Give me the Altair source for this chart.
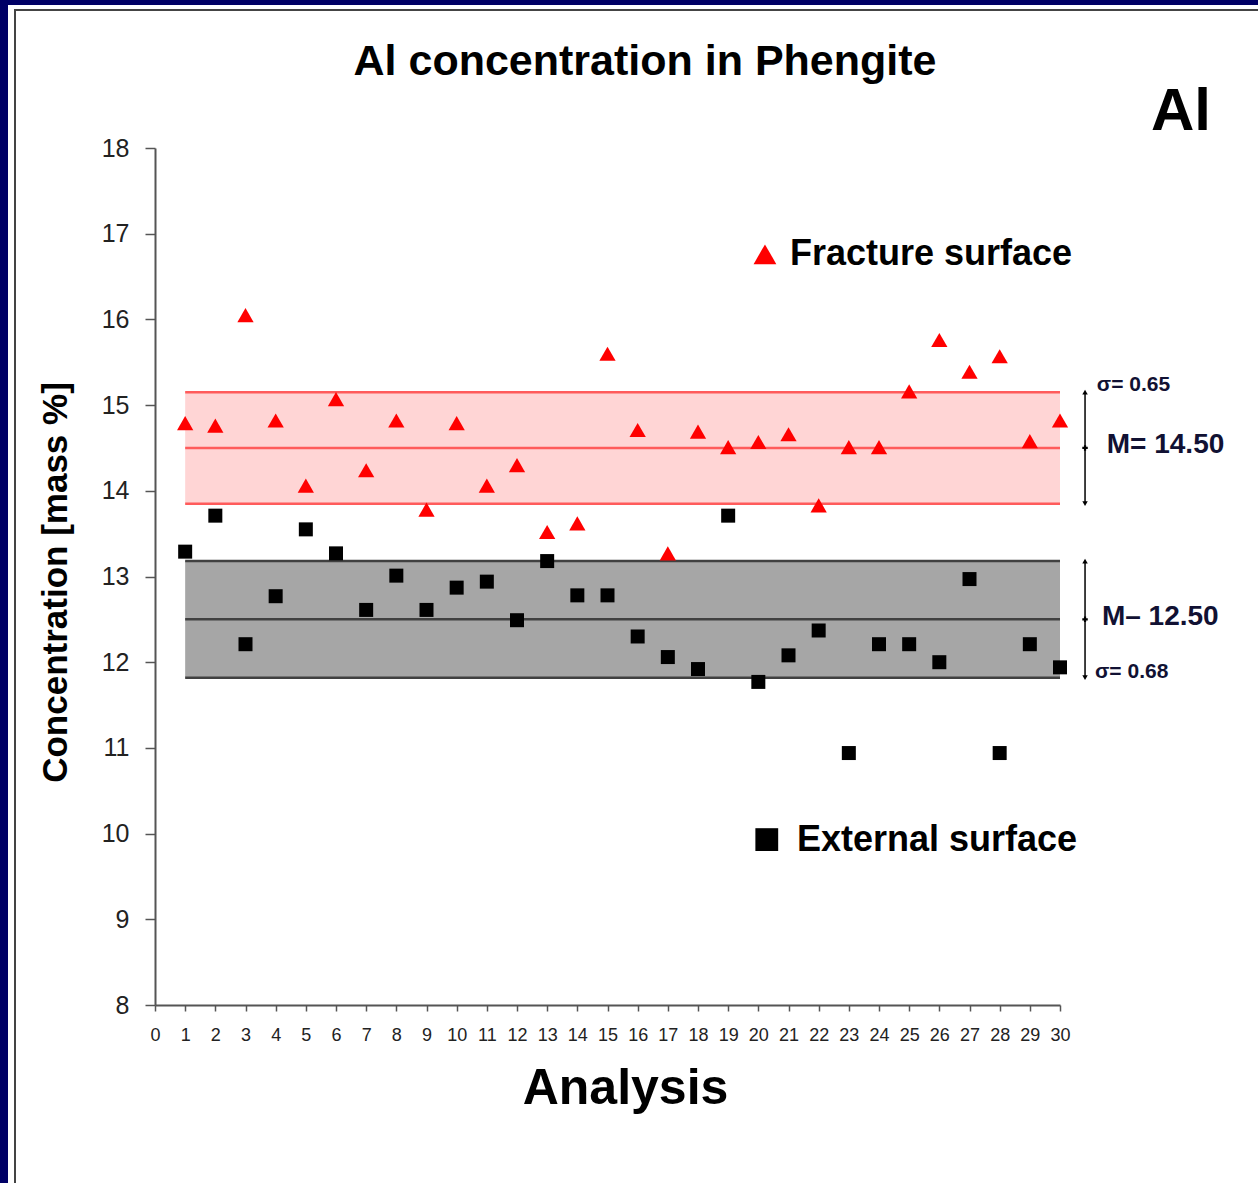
import altair as alt
import pandas as pd

# ---------------- data ----------------
analysis = list(range(1, 31))
fracture = [14.79, 14.76, 16.05, 14.82, 14.06, 15.07, 14.24, 14.82, 13.78, 14.79,
            14.06, 14.30, 13.52, 13.62, 15.60, 14.71, 13.27, 14.69, 14.51, 14.57,
            14.66, 13.83, 14.51, 14.51, 15.16, 15.76, 15.39, 15.57, 14.58, 14.82]
external = [13.29, 13.71, 12.21, 12.77, 13.55, 13.27, 12.61, 13.01, 12.61, 12.87,
            12.94, 12.49, 13.18, 12.78, 12.78, 12.30, 12.06, 11.92, 13.71, 11.77,
            12.08, 12.37, 10.94, 12.21, 12.21, 12.00, 12.97, 10.94, 12.21, 11.94]
series_names = ["Fracture surface", "External surface"]
band_mean = [14.50, 12.50]
band_sigma = [0.65, 0.68]
band_from = [1, 1]
band_to = [30, 30]
mean_labels = ["M= 14.50", "M\u2013 12.50"]
sigma_labels = ["\u03c3= 0.65", "\u03c3= 0.68"]
x_ticks = list(range(0, 31))
y_ticks = list(range(8, 19))

FONT = "Liberation Sans, Arial, sans-serif"

# ---------------- tables ----------------
pts = pd.DataFrame({
    "Analysis": analysis * 2,
    "value": fracture + external,
    "series": [series_names[0]] * 30 + [series_names[1]] * 30,
})
bands = pd.DataFrame({
    "series": series_names,
    "x1": band_from, "x2": band_to,
    "lo": [m - s for m, s in zip(band_mean, band_sigma)],
    "hi": [m + s for m, s in zip(band_mean, band_sigma)],
    "mean": band_mean,
})
lines = pd.DataFrame({
    "series": [s for s in series_names for _ in range(3)],
    "x1": [b for b in band_from for _ in range(3)],
    "x2": [b for b in band_to for _ in range(3)],
    "level": [v for m, s in zip(band_mean, band_sigma) for v in (m - s, m, m + s)],
})

xs = alt.Scale(domain=[0, 30], nice=False, zero=False)
ys = alt.Scale(domain=[8, 18], nice=False, zero=False)
fill_scale = alt.Scale(domain=series_names, range=["#ffd5d5", "#a6a6a6"])
line_scale = alt.Scale(domain=series_names, range=["#ff5b5b", "#404040"])
pt_color = alt.Scale(domain=series_names, range=["#ff0000", "#000000"])
pt_shape = alt.Scale(domain=series_names, range=["triangle-up", "square"])

x_axis = alt.Axis(values=x_ticks, grid=False, domainColor="#555555", domainWidth=2,
                  tickColor="#555555", tickWidth=1.5, tickSize=6,
                  labelFont=FONT, labelFontSize=18, labelColor="#222222", format="d",
                  labelPadding=15, labelAngle=0, labelFlush=False, labelOverlap=False,
                  title="Analysis", titleFont=FONT, titleFontSize=50, titleFontWeight="bold",
                  titleColor="#000000", titleX=470, titleY=83, titleBaseline="middle",
                  titleAlign="center", titleAngle=0)
y_axis = alt.Axis(values=y_ticks, grid=False, domainColor="#555555", domainWidth=2,
                  tickColor="#555555", tickWidth=1.5, tickSize=10, format="d",
                  labelFont=FONT, labelFontSize=25, labelColor="#222222", labelPadding=16,
                  labelOverlap=False,
                  title="Concentration [mass %]", titleFont=FONT, titleFontSize=35,
                  titleFontWeight="bold", titleColor="#000000", titleAngle=270,
                  titleX=-100, titleY=434, titleBaseline="middle", titleAlign="center")


def X(field):
    return alt.X(field, scale=xs, axis=x_axis)


def Y(field):
    return alt.Y(field, scale=ys, axis=y_axis)


# frame (decoration in pixel space)
dummy = pd.DataFrame({"k": [0]})
frame_top = alt.Chart(dummy).mark_rect(color="#000066").encode(
    x=alt.value(-155), x2=alt.value(1103), y=alt.value(-148), y2=alt.value(-143))
frame_left = alt.Chart(dummy).mark_rect(color="#000066").encode(
    x=alt.value(-155), x2=alt.value(-147), y=alt.value(-148), y2=alt.value(1035))
frame_h = alt.Chart(dummy).mark_rule(color="#444444", strokeWidth=2).encode(
    x=alt.value(-141), x2=alt.value(1103), y=alt.value(-138))
frame_v = alt.Chart(dummy).mark_rule(color="#444444", strokeWidth=2).encode(
    x=alt.value(-140), y=alt.value(-139), y2=alt.value(1035))

band_rect = alt.Chart(bands).mark_rect().encode(
    x=X("x1:Q"), x2="x2:Q", y=Y("lo:Q"), y2="hi:Q",
    fill=alt.Fill("series:N", scale=fill_scale, legend=None))
band_lines = alt.Chart(lines).mark_rule(strokeWidth=2.5).encode(
    x=X("x1:Q"), x2="x2:Q", y=Y("level:Q"),
    stroke=alt.Stroke("series:N", scale=line_scale, legend=None))

points = alt.Chart(pts).mark_point(filled=True, opacity=1).encode(
    x=X("Analysis:Q"), y=Y("value:Q"),
    color=alt.Color("series:N", scale=pt_color, legend=None),
    shape=alt.Shape("series:N", scale=pt_shape, legend=None),
    size=alt.Size("series:N", scale=alt.Scale(domain=series_names, range=[265, 196]), legend=None))

# manual legend
leg = pd.DataFrame({"series": series_names, "sx": [20.22, 20.28], "sy": [16.76, 9.93],
                    "tx": [21.05, 21.28]})
leg_sym = alt.Chart(leg).mark_point(filled=True, opacity=1).encode(
    x=X("sx:Q"), y=Y("sy:Q"),
    color=alt.Color("series:N", scale=pt_color, legend=None),
    shape=alt.Shape("series:N", scale=pt_shape, legend=None),
    size=alt.value(520))
leg_txt = alt.Chart(leg).mark_text(align="left", baseline="middle", font=FONT,
                                   fontSize=36, fontWeight="bold", color="#000000").encode(
    x=X("tx:Q"), y=Y("sy:Q"), text="series:N")

# right-hand annotations
ann = pd.DataFrame({"series": series_names, "ax": [30.83, 30.83],
                    "lo": bands["lo"], "hi": bands["hi"], "mean": band_mean,
                    "mlab": mean_labels, "slab": sigma_labels,
                    "mx": [31.55, 31.39], "my": [14.54, 12.53],
                    "sx": [31.22, 31.16], "sy": [15.23, 11.885]})
arrow = alt.Chart(ann).mark_rule(color="#000000", strokeWidth=1.5).encode(
    x=X("ax:Q"), y=Y("lo:Q"), y2="hi:Q")
head_up = alt.Chart(ann).mark_point(shape="triangle-up", filled=True, color="#000000",
                                    size=30, opacity=1).encode(x=X("ax:Q"), y=Y("hi:Q"))
head_dn = alt.Chart(ann).mark_point(shape="triangle-down", filled=True, color="#000000",
                                    size=30, opacity=1).encode(x=X("ax:Q"), y=Y("lo:Q"))
mid_mark = alt.Chart(ann).mark_point(shape="cross", filled=True, color="#000000",
                                     size=30, opacity=1).encode(x=X("ax:Q"), y=Y("mean:Q"))
mean_txt = alt.Chart(ann).mark_text(align="left", baseline="middle", font=FONT,
                                    fontSize=28, fontWeight="bold", color="#111133").encode(
    x=X("mx:Q"), y=Y("my:Q"), text="mlab:N")
sig_txt = alt.Chart(ann).mark_text(align="left", baseline="middle", font=FONT,
                                   fontSize=21, fontWeight="bold", color="#111133").encode(
    x=X("sx:Q"), y=Y("sy:Q"), text="slab:N")

# titles
ttl = pd.DataFrame({"t": ["Al concentration in Phengite"]})
title_mark = alt.Chart(ttl).mark_text(align="center", baseline="middle", font=FONT,
                                      fontSize=43, fontWeight="bold", color="#000000").encode(
    x=alt.value(490), y=alt.value(-86), text="t:N")
el = pd.DataFrame({"t": ["Al"]})
el_mark = alt.Chart(el).mark_text(align="center", baseline="middle", font=FONT,
                                  fontSize=60, fontWeight="bold", color="#000000").encode(
    x=alt.value(1026), y=alt.value(-36), text="t:N")

chart = alt.layer(
    band_rect, band_lines, frame_top, frame_left, frame_h, frame_v,
    points, leg_sym, leg_txt, arrow, head_up, head_dn, mid_mark, mean_txt, sig_txt,
    title_mark, el_mark,
).resolve_scale(
    color="independent", fill="independent", stroke="independent",
    shape="independent", size="independent",
).properties(
    width=905, height=857,
    autosize=alt.AutoSizeParams(type="none"),
    padding={"left": 155, "top": 148, "right": 198, "bottom": 178},
    background="#ffffff",
).configure_view(stroke=None)

chart.save("out.html", embed_options={"renderer": "svg", "actions": False})
